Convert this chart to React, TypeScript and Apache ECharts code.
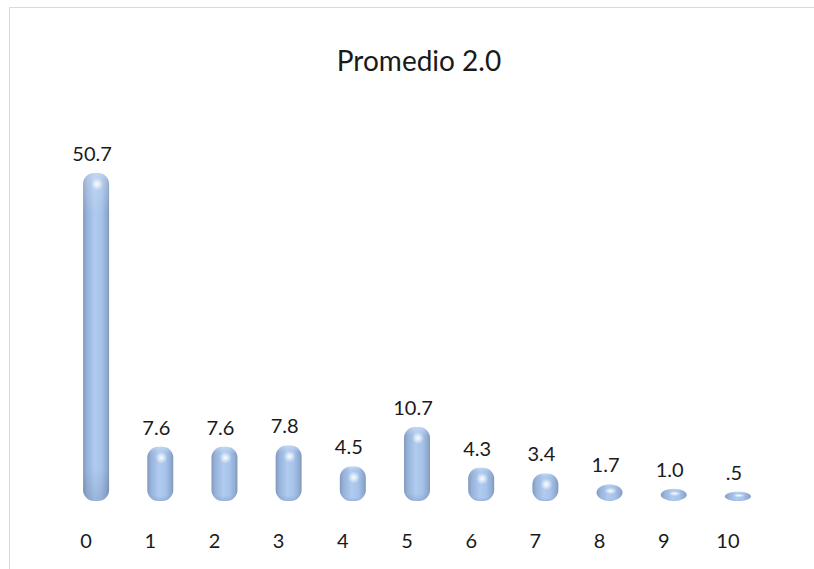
import React, { useEffect, useRef } from "react";
import * as echarts from "echarts";

const titleText = "Promedio 2.0";
const categories = ["0", "1", "2", "3", "4", "5", "6", "7", "8", "9", "10"];
const values = [50.7, 7.6, 7.6, 7.8, 4.5, 10.7, 4.3, 3.4, 1.7, 1.0, 0.5];

const fmt = (v: number) => v.toFixed(1).replace(/^0\./, ".");

export default function App() {
  const ref = useRef<HTMLDivElement>(null);
  useEffect(() => {
    if (!ref.current) return;
    const chart = echarts.init(ref.current, undefined, { renderer: "svg" });
    const font = "Lato, 'Noto Sans', sans-serif";
    const bodyGrad = new echarts.graphic.LinearGradient(0, 0, 1, 0, [
      { offset: 0, color: "#8299bd" },
      { offset: 0.15, color: "#98b3da" },
      { offset: 0.45, color: "#b0cbef" },
      { offset: 0.7, color: "#a7c3ea" },
      { offset: 0.9, color: "#91abd2" },
      { offset: 1, color: "#7f97bd" },
    ]);
    const shadeGrad = new echarts.graphic.LinearGradient(0, 0, 0, 1, [
      { offset: 0, color: "rgba(255,255,255,0.25)" },
      { offset: 0.12, color: "rgba(255,255,255,0)" },
      { offset: 0.9, color: "rgba(40,60,100,0)" },
      { offset: 1, color: "rgba(40,60,100,0.15)" },
    ]);
    const hiGrad = new echarts.graphic.RadialGradient(0.5, 0.5, 0.5, [
      { offset: 0, color: "rgba(255,255,255,0.95)" },
      { offset: 0.5, color: "rgba(255,255,255,0.5)" },
      { offset: 1, color: "rgba(255,255,255,0)" },
    ]);
    chart.setOption({
      animation: false,
      backgroundColor: "#ffffff",
      grid: { left: 64, right: 44, top: 117, bottom: 71 },
      xAxis: {
        type: "category",
        data: categories,
        axisLine: { show: false },
        axisTick: { show: false },
        splitLine: { show: false },
        axisLabel: {
          color: "#1a1a1a",
          fontSize: 20,
          fontFamily: font,
          margin: 32,
          padding: [0, 20, 0, 0],
        },
      },
      yAxis: { type: "value", min: 0, max: 60, show: false, splitLine: { show: false } },
      graphic: [
        {
          type: "rect",
          shape: { x: 9.5, y: 7.5, width: 900, height: 700 },
          style: { fill: "none", stroke: "#d9d9d9", lineWidth: 1 },
          silent: true,
        },
        {
          type: "text",
          x: 419,
          y: 60,
          style: {
            text: titleText,
            fontSize: 28,
            fontFamily: font,
            fill: "#1a1a1a",
            textAlign: "center",
            textVerticalAlign: "middle",
          },
        },
      ],
      series: [
        {
          type: "custom",
          data: values.map((v, i) => [i, v]),
          encode: { x: 0, y: 1 },
          renderItem: (params: any, api: any) => {
            const idx = api.value(0);
            const v = api.value(1);
            const top = api.coord([idx, v]);
            const base = api.coord([idx, 0]);
            const bw = 26;
            const cx = top[0];
            const bottom = base[1] + 3;
            const h = bottom - top[1] + 3;
            const y0 = bottom - h;
            const children: any[] = [];
            if (h >= bw) {
              const shape = { x: cx - bw / 2, y: y0, width: bw, height: h, r: 11 };
              children.push({ type: "rect", shape, style: { fill: bodyGrad } });
              children.push({ type: "rect", shape, style: { fill: shadeGrad } });
              children.push({
                type: "ellipse",
                shape: { cx: cx + 1, cy: y0 + 11, rx: 6, ry: 6 },
                style: { fill: hiGrad },
              });
            } else {
              const shape = { cx, cy: y0 + h / 2, rx: bw / 2, ry: h / 2 };
              children.push({ type: "ellipse", shape, style: { fill: bodyGrad } });
              children.push({ type: "ellipse", shape, style: { fill: shadeGrad } });
              children.push({
                type: "ellipse",
                shape: { cx: cx + 1, cy: y0 + h * 0.4, rx: 6, ry: Math.max(1.5, h * 0.2) },
                style: { fill: hiGrad },
              });
            }
            children.push({
              type: "text",
              x: cx - 4,
              y: y0 - 20,
              style: {
                text: fmt(v),
                fontSize: 20,
                fontFamily: font,
                fill: "#1a1a1a",
                textAlign: "center",
                textVerticalAlign: "middle",
              },
            });
            return { type: "group", children };
          },
        },
      ],
    });
    return () => chart.dispose();
  }, []);
  return (
    <div
      ref={ref}
      style={{ position: "fixed", left: 0, top: 0, width: 814, height: 569 }}
    />
  );
}
